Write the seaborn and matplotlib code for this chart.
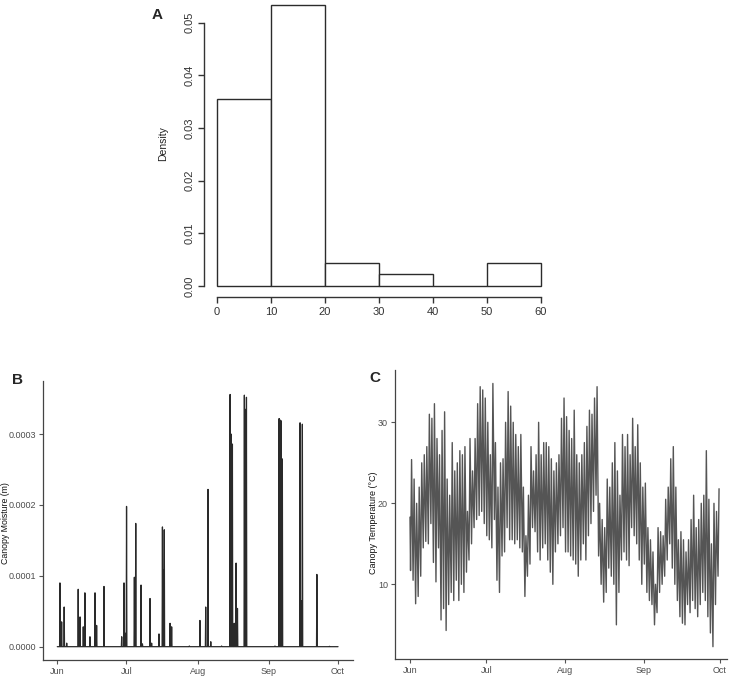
import numpy as np
import pandas as pd
import matplotlib
matplotlib.use("Agg")
import matplotlib.pyplot as plt
import matplotlib.dates as mdates
import seaborn as sns

# ---------------- data ----------------
# Panel A: histogram
bin_edges = [0, 10, 20, 30, 40, 50, 60]
bin_counts = [16, 24, 2, 1, 0, 2]
hist_yticks = [0.00, 0.01, 0.02, 0.03, 0.04, 0.05]
hist_xticks = [0, 10, 20, 30, 40, 50, 60]

# Panel B: canopy moisture wetting events (days after 1 June, peak in m)
moist_event_days = [1.16, 1.9, 3.0, 4.1, 9.1, 9.9, 11.3, 12.0, 14.2, 16.4, 17.1, 20.3,
                    28.0, 29.0, 29.6, 30.1, 33.5, 34.1, 36.4, 37.0, 40.3, 41.0, 44.2,
                    45.7, 46.1, 46.5, 49.0, 49.7, 57.4, 62.0, 64.5, 65.5, 66.7, 71.4,
                    75.1, 75.6, 76.1, 76.9, 77.7, 78.3, 81.3, 81.7, 82.2, 94.6, 96.4,
                    96.8, 97.2, 97.8, 105.5, 106.0, 106.5, 112.8, 118.3]
moist_event_peaks = [0.90e-4, 0.35e-4, 0.56e-4, 0.05e-4, 0.81e-4, 0.42e-4, 0.28e-4,
                     0.76e-4, 0.14e-4, 0.76e-4, 0.30e-4, 0.85e-4, 0.14e-4, 0.90e-4,
                     0.19e-4, 1.98e-4, 0.98e-4, 1.74e-4, 0.87e-4, 0.04e-4, 0.68e-4,
                     0.05e-4, 0.18e-4, 1.69e-4, 1.08e-4, 1.65e-4, 0.33e-4, 0.28e-4,
                     0.01e-4, 0.37e-4, 0.56e-4, 2.22e-4, 0.07e-4, 0.01e-4, 3.56e-4,
                     3.00e-4, 2.86e-4, 0.33e-4, 1.18e-4, 0.54e-4, 3.55e-4, 3.35e-4,
                     3.52e-4, 0.01e-4, 3.22e-4, 3.20e-4, 3.19e-4, 2.65e-4, 3.16e-4,
                     0.65e-4, 3.14e-4, 1.02e-4, 0.005e-4]
moist_yticks = [0.0, 0.0001, 0.0002, 0.0003]

# Panel C: canopy temperature, daily minima and maxima (deg C), 1 June - 30 Sept
temp_start = 18.3
temp_min = [11.7, 10.5, 7.6, 8.5, 11, 14.5, 15.3, 15, 17.5, 12.7, 10.3, 14.5, 5.6, 7, 4.3,
            7.5, 9, 8, 10.5, 8, 10, 9, 11.5, 13, 15, 17, 18, 18.5, 19, 17.5, 16, 15.5,
            14.5, 18, 10.5, 9, 13.5, 14, 17, 15.5, 15.5, 15, 15.5, 14.5, 14, 8.5, 11,
            12.5, 17, 16.5, 14, 13, 14.5, 15, 13, 11.5, 10, 14, 15, 16, 17, 14, 14, 13.5,
            13, 12.5, 11, 13, 15, 13, 16, 17.5, 19, 21, 13.5, 10, 7.8, 9, 12, 11, 10, 5,
            9, 13, 14, 13, 12.3, 17, 16, 15, 13, 10, 12.5, 9, 8, 7.5, 5, 6.5, 9, 10, 11,
            13, 15, 12, 10, 8, 6, 5.2, 5, 7.5, 6.5, 8, 7, 6, 7.5, 9, 8, 6, 4, 2.3, 7.5, 11]
temp_max = [25.4, 23, 20, 22, 25, 26, 27, 31, 30.5, 32.3, 28, 26, 29, 31.3, 23, 21, 27.5,
            24, 25, 26.5, 26, 27, 19, 28, 24, 28, 32.3, 34.4, 34, 33, 30, 26, 34.8, 27.5,
            22, 25, 25.5, 30, 33.8, 32, 30, 28.5, 27, 28.5, 22, 16, 21, 27, 24, 26, 30,
            26, 27.5, 27.5, 27, 25.5, 24, 25, 26, 30.5, 33, 30.7, 29, 28, 31.5, 26, 25,
            26, 27.5, 29.5, 31.5, 31, 33, 34.4, 20, 18, 17, 23, 22, 25, 27.5, 24, 21, 28.5,
            27, 28.5, 26, 30.5, 27, 29.7, 25, 22, 22.5, 17, 15.5, 14, 10, 17, 16.5, 16,
            20.5, 22, 25.5, 27, 22, 15.5, 16.5, 15.5, 14, 15.5, 18, 21, 17, 18, 20, 21,
            26.5, 20.5, 15, 20, 19, 21.8]
temp_yticks = [10, 20, 30]

start = pd.Timestamp("2016-06-01")

# ---------------- build series ----------------
w = 0.15
m_days = [0.0]
m_vals = [0.0]
for d, p in zip(moist_event_days, moist_event_peaks):
    m_days += [d - w, d, d + w]
    m_vals += [0.0, p, 0.0]
m_days.append(122.0)
m_vals.append(0.0)
moist_df = pd.DataFrame({"time": start + pd.to_timedelta(m_days, unit="D"),
                         "moisture": m_vals})

t_days = [0.0]
t_vals = [temp_start]
for i, (lo, hi) in enumerate(zip(temp_min, temp_max)):
    t_days += [i + 0.22, i + 0.62]
    t_vals += [lo, hi]
temp_df = pd.DataFrame({"time": start + pd.to_timedelta(t_days, unit="D"),
                        "temp": t_vals})

bin_centers = [(a + b) / 2 for a, b in zip(bin_edges[:-1], bin_edges[1:])]

# ---------------- style ----------------
sns.set_style("ticks")
plt.rcParams["font.family"] = ["Liberation Sans", "DejaVu Sans"]

W, H = 737, 676
fig = plt.figure(figsize=(W / 100, H / 100), dpi=100)


def px_axes(left, top, right, bottom):
    return fig.add_axes([left / W, 1 - bottom / H, (right - left) / W, (bottom - top) / H])


# ---------------- Panel A ----------------
axA = px_axes(204, 0, 554, 297)
sns.histplot(x=bin_centers, weights=bin_counts, bins=bin_edges, stat="density",
             ax=axA, color="white", edgecolor="#2b2b2b", linewidth=1.0, alpha=1)
axA.set_xlim(-2.41, 62.4)
axA.set_ylim(-0.00209, 0.05431)
axA.set_xticks(hist_xticks)
axA.set_yticks(hist_yticks)
axA.set_yticklabels(["%.2f" % v for v in hist_yticks])
for s in ["top", "right"]:
    axA.spines[s].set_visible(False)
axA.spines["left"].set_bounds(0, 0.05)
axA.spines["bottom"].set_bounds(0, 60)
for s in ["left", "bottom"]:
    axA.spines[s].set_color("#333333")
    axA.spines[s].set_linewidth(1.0)
axA.tick_params(axis="both", direction="out", length=4, width=1.0, color="#333333",
                labelsize=8, labelcolor="#333333", pad=3)
for lab in axA.get_yticklabels():
    lab.set_rotation(90)
    lab.set_va("center")
axA.set_ylabel("")
axA.set_xlabel("")
fig.text(163 / W, 1 - 144 / H, "Density", rotation=90, ha="center", va="center",
         fontsize=7.5, color="#222222")
fig.text(152 / W, 1 - 15 / H, "A", ha="left", va="center", fontsize=11,
         fontweight="bold")

# ---------------- Panel B ----------------
axB = px_axes(43, 381, 353, 660)
sns.lineplot(data=moist_df, x="time", y="moisture", ax=axB, color="#2a2a2a",
             linewidth=0.9, estimator=None)
axB.set_xlim(start - pd.Timedelta(days=6.2), pd.Timestamp("2016-10-01") + pd.Timedelta(days=6.5))
axB.set_ylim(-0.0000188, 0.000375)
axB.set_yticks(moist_yticks)
axB.set_yticklabels(["%.4f" % v for v in moist_yticks])
axB.xaxis.set_major_locator(mdates.MonthLocator())
axB.xaxis.set_major_formatter(mdates.DateFormatter("%b"))
axB.set_xlabel("")
axB.set_ylabel("")

# ---------------- Panel C ----------------
axC = px_axes(395, 370, 727, 659)
sns.lineplot(data=temp_df, x="time", y="temp", ax=axC, color="#555555",
             linewidth=1.0, estimator=None)
axC.set_xlim(start - pd.Timedelta(days=5.9), pd.Timestamp("2016-10-01") + pd.Timedelta(days=2.75))
axC.set_ylim(0.78, 36.46)
axC.set_yticks(temp_yticks)
axC.xaxis.set_major_locator(mdates.MonthLocator())
axC.xaxis.set_major_formatter(mdates.DateFormatter("%b"))
axC.set_xlabel("")
axC.set_ylabel("")

for ax in (axB, axC):
    for s in ["top", "right"]:
        ax.spines[s].set_visible(False)
    for s in ["left", "bottom"]:
        ax.spines[s].set_color("#444444")
        ax.spines[s].set_linewidth(0.9)
    ax.tick_params(axis="both", direction="out", length=3, width=0.8, color="#555555",
                   labelsize=6.5, labelcolor="#4d4d4d", pad=2)

fig.text(6 / W, 1 - 523 / H, "Canopy Moisture (m)", rotation=90, ha="center",
         va="center", fontsize=6.3, color="#111111")
fig.text(373 / W, 1 - 523 / H, "Canopy Temperature (\u00b0C)", rotation=90, ha="center",
         va="center", fontsize=6.5, color="#111111")
fig.text(12 / W, 1 - 380 / H, "B", ha="left", va="center", fontsize=11, fontweight="bold")
fig.text(369 / W, 1 - 378 / H, "C", ha="left", va="center", fontsize=11, fontweight="bold")

fig.savefig("out.png", dpi=100)
